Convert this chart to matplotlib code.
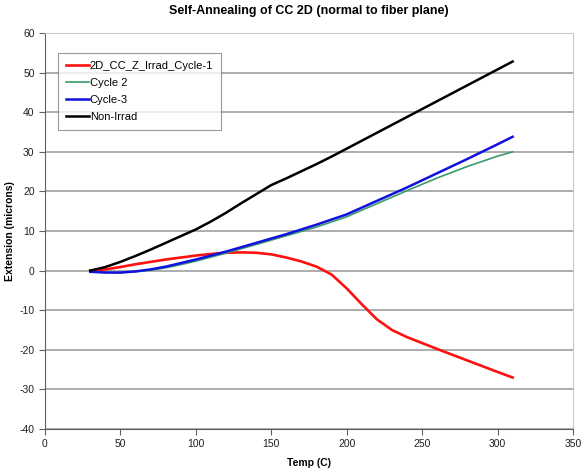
import numpy as np
import matplotlib.pyplot as plt

plt.rcParams['font.family'] = ['Liberation Sans', 'DejaVu Sans']
plt.rcParams['axes.unicode_minus'] = False

# Temperature (C) / extension (microns) for each run
temp = [30, 40, 50, 60, 70, 80, 90, 100, 110, 120, 130, 140, 150, 160,
        170, 180, 190, 200, 220, 240, 260, 280, 300, 310]

cycle1_temp = [30, 40, 50, 60, 70, 80, 90, 100, 110, 120, 130, 140, 150,
               160, 170, 180, 190, 200, 210, 220, 230, 240, 260, 280, 300, 310]
cycle1 = [0, 0.3, 0.9, 1.6, 2.2, 2.8, 3.3, 3.8, 4.2, 4.5, 4.6, 4.5, 4.1,
          3.3, 2.3, 1.0, -1.0, -4.5, -8.5, -12.3, -15.0, -16.8, -19.8,
          -22.7, -25.6, -27.0]
cycle2 = [-0.2, -0.4, -0.5, -0.3, 0.1, 0.7, 1.5, 2.4, 3.4, 4.4, 5.5, 6.6,
          7.7, 8.8, 9.9, 11.0, 12.3, 13.6, 16.9, 20.2, 23.4, 26.3, 28.9, 30.0]
cycle3 = [-0.3, -0.5, -0.5, -0.2, 0.3, 1.0, 1.9, 2.8, 3.8, 4.8, 5.9, 7.0,
          8.1, 9.2, 10.4, 11.6, 12.9, 14.2, 17.6, 21.0, 24.6, 28.2, 31.9, 33.8]
non_irrad = [0, 0.9, 2.2, 3.7, 5.3, 7.0, 8.7, 10.4, 12.4, 14.6, 17.0, 19.3,
             21.6, 23.3, 25.1, 26.9, 28.8, 30.8, 34.8, 38.8, 42.8, 46.8,
             50.8, 52.8]

fig = plt.figure(figsize=(5.81, 4.74), dpi=100)
ax = fig.add_axes([45 / 581, 45 / 474, 528 / 581, 396 / 474])

ax.plot(cycle1_temp, cycle1, color='#ff1010', lw=1.9, label='2D_CC_Z_Irrad_Cycle-1')
ax.plot(temp, cycle2, color='#3a9a6a', lw=1.2, label='Cycle 2')
ax.plot(temp, cycle3, color='#1010e0', lw=1.8, label='Cycle-3')
ax.plot(temp, non_irrad, color='black', lw=1.8, label='Non-Irrad')

ax.set_xlim(0, 350)
ax.set_ylim(-40, 60)
ax.set_xticks(np.arange(0, 351, 50))
ax.set_yticks(np.arange(-40, 61, 10))
ax.yaxis.grid(True, color='#a0a0a0', lw=1.2)
ax.set_axisbelow(True)

for side in ['left', 'bottom']:
    ax.spines[side].set_color('#606060')
for side in ['top', 'right']:
    ax.spines[side].set_color('#c8c8c8')
ax.tick_params(labelsize=7.5, colors='#202020', length=4, color='#606060')

ax.set_xlabel('Temp (C)', fontsize=7.5, fontweight='bold', labelpad=6)
ax.set_ylabel('Extension (microns)', fontsize=7.5, fontweight='bold', labelpad=3)
ax.set_title('Self-Annealing of CC 2D (normal to fiber plane)',
             fontsize=9, fontweight='bold', pad=14)

leg = ax.legend(loc='upper left', bbox_to_anchor=(13 / 528, 1 - 20 / 396),
                fontsize=8, frameon=True, fancybox=False, handlelength=2.0,
                handletextpad=0.1, borderpad=0.75, labelspacing=0.62,
                borderaxespad=0)
leg.get_frame().set_edgecolor('#808080')
leg.get_frame().set_linewidth(0.8)

fig.savefig('out.png', dpi=100)
